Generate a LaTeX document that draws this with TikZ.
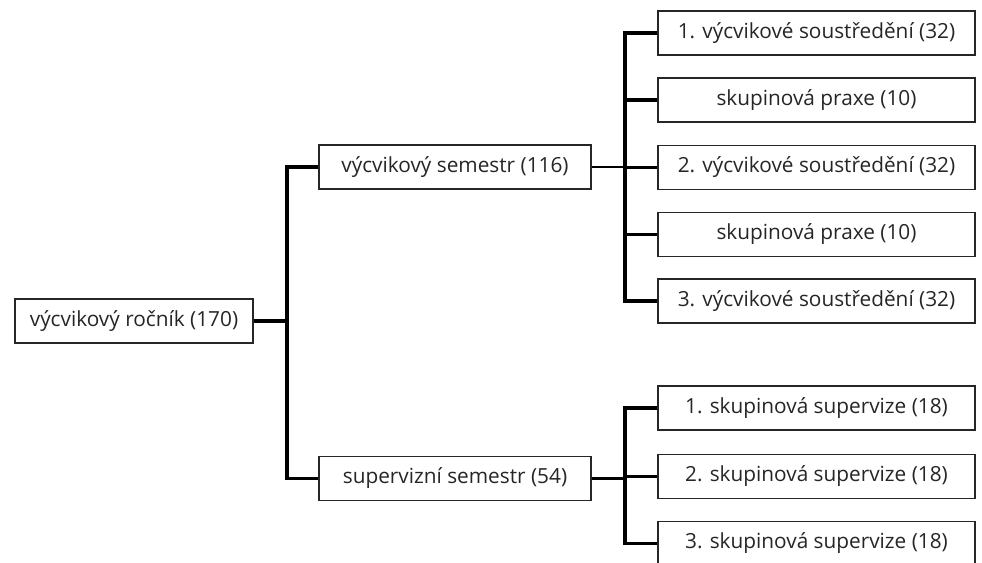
\documentclass[tikz,border=0pt]{standalone}
\usepackage{fontspec}
\setmainfont{Open Sans}
\begin{document}
\begin{tikzpicture}[x=0.75pt,y=-0.75pt,
  box/.style={draw=black!85,line width=1.2pt,fill=white,inner sep=0pt,
    text=black!85,font=\fontsize{15.6}{18}\selectfont,minimum height=33pt},
  trunk/.style={line width=2.5pt,black},
  thin/.style={line width=1.8pt,black}]
\useasboundingbox (0,0) rectangle (982,562);
\node[box,minimum width=178.5pt] (root) at (134,321) {výcvikový ročník (170)};
\node[box,minimum width=204pt] (mA) at (455,167) {výcvikový semestr (116)};
\node[box,minimum width=204pt] (mB) at (455,478.5) {supervizní semestr (54)};
\node[box,minimum width=237.75pt] (r1) at (816.5,33) {1. výcvikové soustředění (32)};
\node[box,minimum width=237.75pt] (r2) at (816.5,100) {skupinová praxe (10)};
\node[box,minimum width=237.75pt] (r3) at (816.5,167.5) {2. výcvikové soustředění (32)};
\node[box,minimum width=237.75pt] (r4) at (816.5,234.5) {skupinová praxe (10)};
\node[box,minimum width=237.75pt] (r5) at (816.5,301) {3. výcvikové soustředění (32)};
\node[box,minimum width=237.75pt] (s1) at (816.5,408) {1. skupinová supervize (18)};
\node[box,minimum width=237.75pt] (s2) at (816.5,476.5) {2. skupinová supervize (18)};
\node[box,minimum width=237.75pt] (s3) at (816.5,543.5) {3. skupinová supervize (18)};
\coordinate (j1) at (287,0);
\coordinate (j2) at (625,0);
\coordinate (j3) at (625,0);
\draw[trunk] (root.east) -- (root.east -| j1);
\draw[trunk] (mA.west) -- (mA.west -| j1) -- (mB.west -| j1) -- (mB.west);
\draw[thin] (mA.east) -- (mA.east -| j2);
\draw[trunk] (r1.west) -- (r1.west -| j2) -- (r5.west -| j2) -- (r5.west);
\draw[trunk] (r2.west) -- (r2.west -| j2);
\draw[trunk] (r3.west) -- (r3.west -| j2);
\draw[trunk] (r4.west) -- (r4.west -| j2);
\draw[trunk] (mB.east) -- (mB.east -| j3);
\draw[trunk] (s1.west) -- (s1.west -| j3) -- (s3.west -| j3) -- (s3.west);
\draw[trunk] (s2.west) -- (s2.west -| j3);
\end{tikzpicture}
\end{document}
